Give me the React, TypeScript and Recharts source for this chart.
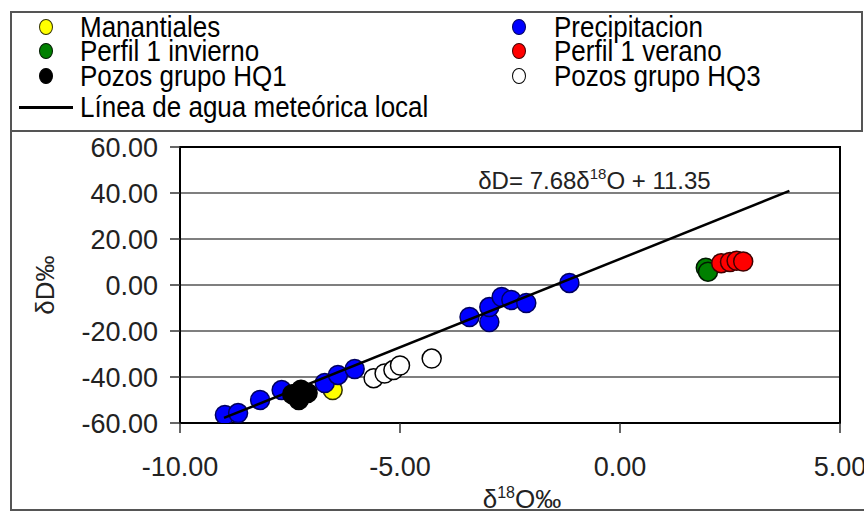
import React from 'react';
import {
  ScatterChart,
  Scatter,
  XAxis,
  YAxis,
  CartesianGrid,
  ReferenceArea,
  ReferenceDot,
  Label,
} from 'recharts';

// values (δ18O ‰, δD ‰)
const manantialesX = [-6.53];
const manantialesY = [-45.7];

const precipX = [-8.98, -8.68, -8.18, -7.69, -6.71, -6.41, -6.03, -3.42, -2.97, -2.97, -2.69, -2.47, -2.13, -1.15];
const precipY = [-56.5, -55.7, -50.0, -45.7, -42.6, -39.1, -36.5, -13.9, -16.1, -9.6, -5.2, -6.5, -7.8, 0.9];

const inviernoX = [1.95, 2.0];
const inviernoY = [7.5, 5.8];

const veranoX = [2.3, 2.5, 2.65, 2.8];
const veranoY = [9.5, 10.0, 10.5, 10.2];

const hq1X = [-7.45, -7.25, -7.1, -7.3];
const hq1Y = [-47.5, -45.5, -47.0, -50.0];

const hq3X = [-5.6, -5.35, -5.15, -5.0, -4.28];
const hq3Y = [-40.5, -38.5, -37.0, -35.0, -32.0];

// local meteoric water line end points
const lmwlX = [-9.0, 3.85];
const lmwlY = [-57.8, 40.9];

const xTicks = [-10, -5, 0, 5];
const yTicks = [-60, -40, -20, 0, 20, 40, 60];

const zip = (xs: number[], ys: number[]) => xs.map((x, i) => ({ x, y: ys[i] }));

const series = [
  { name: 'Manantiales', fill: '#ffff00', stroke: '#333300', data: zip(manantialesX, manantialesY) },
  { name: 'Precipitacion', fill: '#0000ff', stroke: '#000060', data: zip(precipX, precipY) },
  { name: 'Perfil 1 invierno', fill: '#008000', stroke: '#001a00', data: zip(inviernoX, inviernoY) },
  { name: 'Perfil 1 verano', fill: '#ff0000', stroke: '#400000', data: zip(veranoX, veranoY) },
  { name: 'Pozos grupo HQ1', fill: '#000000', stroke: '#000000', data: zip(hq1X, hq1Y) },
  { name: 'Pozos grupo HQ3', fill: '#ffffff', stroke: '#000000', data: zip(hq3X, hq3Y) },
];

// legend order as in the picture (two columns)
const legendLeft = ['Manantiales', 'Perfil 1 invierno', 'Pozos grupo HQ1'];
const legendRight = ['Precipitacion', 'Perfil 1 verano', 'Pozos grupo HQ3'];
const lineName = 'Línea de agua meteórica local';

const FONT = '"Liberation Sans", Arial, sans-serif';

const dot = (fill: string, stroke: string) => (props: any) => {
  const { cx, cy } = props;
  return <circle cx={cx} cy={cy} r={9.5} fill={fill} stroke={stroke} strokeWidth={1.5} />;
};

const textStyle: React.CSSProperties = {
  position: 'absolute',
  fontSize: 26,
  lineHeight: '22px',
  whiteSpace: 'nowrap',
  transform: 'scaleY(1.12)',
  transformOrigin: 'left center',
};

const LegendBox = () => {
  const rowY = [25, 49, 74];
  const entry = (name: string, i: number, mx: number, tx: number) => {
    const s = series.find(d => d.name === name)!;
    return (
      <React.Fragment key={name}>
        <div
          style={{
            position: 'absolute',
            left: mx - 7,
            top: rowY[i] - 8,
            width: 12,
            height: 14,
            borderRadius: '50%',
            background: s.fill,
            border: `1.5px solid ${s.stroke}`,
          }}
        />
        <div style={{ ...textStyle, left: tx, top: rowY[i] - 11 }}>{name}</div>
      </React.Fragment>
    );
  };
  return (
    <div
      style={{
        position: 'absolute',
        left: 10,
        top: 11,
        width: 853,
        height: 121,
        border: '2px solid #555',
        fontFamily: FONT,
        color: '#000',
        boxSizing: 'border-box',
      }}
    >
      <div style={{ position: 'relative', left: -10, top: -11 }}>
        {legendLeft.map((n, i) => entry(n, i, 44, 78))}
        {legendRight.map((n, i) => entry(n, i, 517, 552))}
        <div style={{ position: 'absolute', left: 17, top: 104, width: 54, height: 3, background: '#000' }} />
        <div style={{ ...textStyle, left: 78, top: 94 }}>{lineName}</div>
      </div>
    </div>
  );
};

const XLabel = (props: any) => {
  const { viewBox } = props;
  const cx = viewBox.x + viewBox.width / 2 + 12;
  return (
    <text x={cx} y={viewBox.y + 85} textAnchor="middle" fontSize={26} fontFamily={FONT} fill="#222">
      δ<tspan dy={-10} fontSize={16}>18</tspan>
      <tspan dy={10}>O‰</tspan>
    </text>
  );
};

const YLabel = (props: any) => {
  const { viewBox } = props;
  const cy = viewBox.y + viewBox.height / 2;
  return (
    <text x={45} y={cy} textAnchor="middle" fontSize={26} fontFamily={FONT} fill="#222" transform={`rotate(-90 45 ${cy})`} dy={9}>
      δD‰
    </text>
  );
};

const EqLabel = (props: any) => {
  const { viewBox } = props;
  return (
    <text x={viewBox.x} y={viewBox.y} textAnchor="middle" fontSize={24} fontFamily={FONT} fill="#222" dy={9}>
      δD= 7.68δ<tspan dy={-10} fontSize={15}>18</tspan>
      <tspan dy={10}>O + 11.35</tspan>
    </text>
  );
};

export default function App() {
  return (
    <div style={{ position: 'absolute', left: 0, top: 0, width: 864, height: 513, background: '#fff' }}>
      <ScatterChart width={864} height={513} margin={{ top: 147, right: 24, bottom: 0, left: 0 }}>
        <CartesianGrid vertical={false} stroke="#555" strokeWidth={1.5} />
        <XAxis
          type="number"
          dataKey="x"
          domain={[-10, 5]}
          ticks={xTicks}
          height={90}
          tickSize={10}
          tickMargin={24}
          tickFormatter={(v: number) => v.toFixed(2)}
          tick={{ fontSize: 27, fill: '#222', fontFamily: FONT }}
          axisLine={{ stroke: '#000', strokeWidth: 2 }}
          tickLine={{ stroke: '#333', strokeWidth: 1.5 }}
          allowDataOverflow
        >
          <Label content={<XLabel />} />
        </XAxis>
        <YAxis
          type="number"
          dataKey="y"
          domain={[-60, 60]}
          ticks={yTicks}
          width={180}
          tickSize={10}
          tickMargin={12}
          tickFormatter={(v: number) => v.toFixed(2)}
          tick={{ fontSize: 27, fill: '#222', fontFamily: FONT }}
          axisLine={{ stroke: '#000', strokeWidth: 2 }}
          tickLine={{ stroke: '#333', strokeWidth: 1.5 }}
          allowDataOverflow
        >
          <Label content={<YLabel />} />
        </YAxis>
        <ReferenceArea x1={-10} x2={5} y1={-60} y2={60} fill="none" stroke="#000" strokeWidth={2} fillOpacity={0} />
        {series.map(s => (
          <Scatter
            key={s.name}
            name={s.name}
            data={s.data}
            shape={dot(s.fill, s.stroke)}
            isAnimationActive={false}
          />
        ))}
        <Scatter
          name={lineName}
          data={zip(lmwlX, lmwlY)}
          line={{ stroke: '#000', strokeWidth: 2.5 }}
          shape={() => <g />}
          isAnimationActive={false}
        />
        <ReferenceDot x={-0.58} y={45.6} r={0} fill="none" stroke="none" label={<EqLabel />} />
      </ScatterChart>
      <LegendBox />
      <div
        style={{
          position: 'absolute',
          left: 10,
          top: 131,
          width: 854,
          height: 380,
          borderLeft: '2px solid #555',
          borderBottom: '2px solid #555',
          boxSizing: 'border-box',
        }}
      />
    </div>
  );
}
